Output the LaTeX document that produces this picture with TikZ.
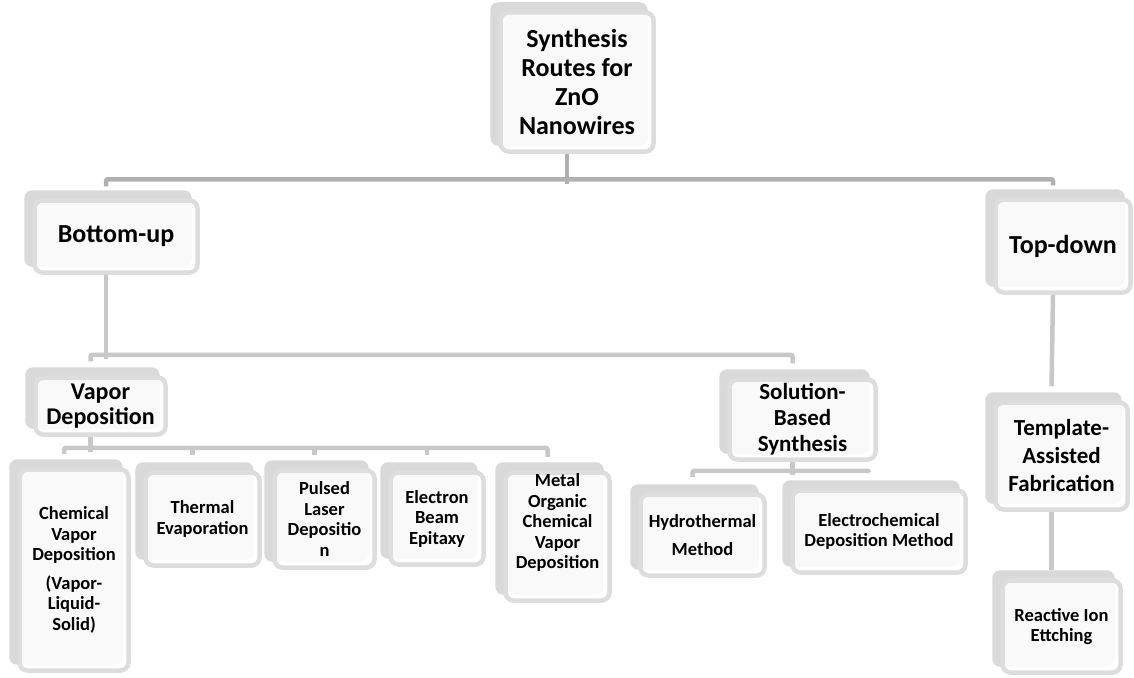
\documentclass[tikz,border=0pt]{standalone}
\usepackage{fontspec}
\setmainfont{Carlito}
\usetikzlibrary{backgrounds}

\definecolor{cardback}{HTML}{D9D9D9}
\definecolor{cardedge}{HTML}{DDDDDD}
\definecolor{linkdark}{HTML}{B0B0B0}
\definecolor{linklight}{HTML}{C8C8C8}

\begin{document}
\begin{tikzpicture}[
    x=1pt, y=-1pt,
    card/.style={draw=cardedge, line width=4.5pt, fill=white, fill opacity=0.85, text opacity=1,
        rounded corners=8pt, align=center, inner sep=0pt},
    cardshade/.style={fill=cardback, rounded corners=8pt},
    big/.style={card, font=\bfseries\fontsize{26}{29}\selectfont},
    mid/.style={card, font=\bfseries\fontsize{23}{26}\selectfont},
    small/.style={card, font=\bfseries\fontsize{18.5}{20.5}\selectfont},
    link/.style={draw=linklight, line width=4.5pt, rounded corners=2pt},
    toplink/.style={link, draw=linkdark}
]
\useasboundingbox (0,0) rectangle (1134,677);

% Boxes
\node[big, minimum width=153pt, minimum height=139pt] (root) at (577,82) {Synthesis\\Routes for\\ZnO\\Nanowires};
\node[big, minimum width=163pt, minimum height=72pt] (bu) at (116,236.5) {Bottom-up};
\node[big, minimum width=135pt, minimum height=93pt] (td) at (1063,246) {Top-down};

\node[mid, minimum width=130pt, minimum height=57pt, font=\bfseries\fontsize{24}{25}\selectfont] (vd) at (100.5,406) {Vapor\\Deposition};
\node[mid, minimum width=146pt, minimum height=80pt] (sb) at (802.5,419.5) {Solution-\\Based\\Synthesis};
\node[mid, minimum width=132pt, minimum height=107pt, font=\bfseries\fontsize{23}{28}\selectfont] (ta) at (1061.5,456) {Template-\\Assisted\\Fabrication};

\node[small, minimum width=109pt, minimum height=201pt] (ch) at (74,570) {Chemical\\Vapor\\Deposition\\[8pt](Vapor-\\Liquid-\\Solid)};
\node[small, minimum width=114pt, minimum height=93pt] (te) at (202.5,519) {Thermal\\Evaporation};
\node[small, minimum width=100pt, minimum height=97pt] (pl) at (324.5,519) {Pulsed\\Laser\\Depositio\\n};
\node[small, minimum width=93pt, minimum height=92pt] (eb) at (437,518.5) {Electron\\Beam\\Epitaxy};
\node[small, minimum width=104pt, minimum height=128pt, text depth=30pt] (mo) at (557.5,536.5) {Metal\\Organic\\Chemical\\Vapor\\Deposition};
\node[small, minimum width=124pt, minimum height=81pt] (hy) at (702.5,535) {Hydrothermal\\[7pt]Method};
\node[small, minimum width=173pt, minimum height=82pt] (ec) at (879,531.5) {Electrochemical\\Deposition Method};
\node[small, minimum width=118pt, minimum height=92pt] (ri) at (1061.5,626.5) {Reactive Ion\\Ettching};

% Grey card behind each box
\begin{scope}[on background layer]
\foreach \k in {root,bu,td,vd,sb,ta,ch,te,pl,eb,mo,hy,ec,ri}
    \path[cardshade] ([shift={(-8pt,8pt)}]\k.north west) rectangle ([shift={(-8pt,8pt)}]\k.south east);
\end{scope}

% Root to bottom-up / top-down
\draw[toplink] ([xshift=-10pt]root.south) -- ++(0,30);
\draw[toplink] ([shift={(-10pt,12pt)}]bu.north) -- ++(0,-7) -| ([shift={(-10pt,12pt)}]td.north);

% Bottom-up branch
\draw[link] ([xshift=-10pt]bu.south) -- ++(0,84.5);
\draw[link] ([shift={(-10pt,14pt)}]vd.north) -- ++(0,-6.5) -| ([shift={(-10pt,14pt)}]sb.north);

% Vapor deposition branch
\draw[link] ([xshift=-10pt]vd.south) -- ++(0,15.5);
\draw[link] ([shift={(-10pt,13.5pt)}]ch.north) -- ++(0,-6) coordinate (vdbus) -| ([shift={(-10pt,13.5pt)}]mo.north);
\foreach \k in {te,pl,eb}
    \draw[link] ([xshift=-10pt]vdbus -| \k) -- ++(0,7.5);

% Solution branch
\draw[link] ([xshift=-10pt]sb.south) -- ++(0,13.5);
\draw[link] ([shift={(-10pt,15.5pt)}]hy.north) -- ++(0,-6) -| ([shift={(-10pt,15.5pt)}]ec.north);

% Top-down branch
\draw[link] ([xshift=-10pt]td.south) -- ([shift={(-10pt,14pt)}]ta.north);
\draw[link] ([xshift=-10pt]ta.south) -- ([shift={(-10pt,8pt)}]ri.north);

\end{tikzpicture}
\end{document}
